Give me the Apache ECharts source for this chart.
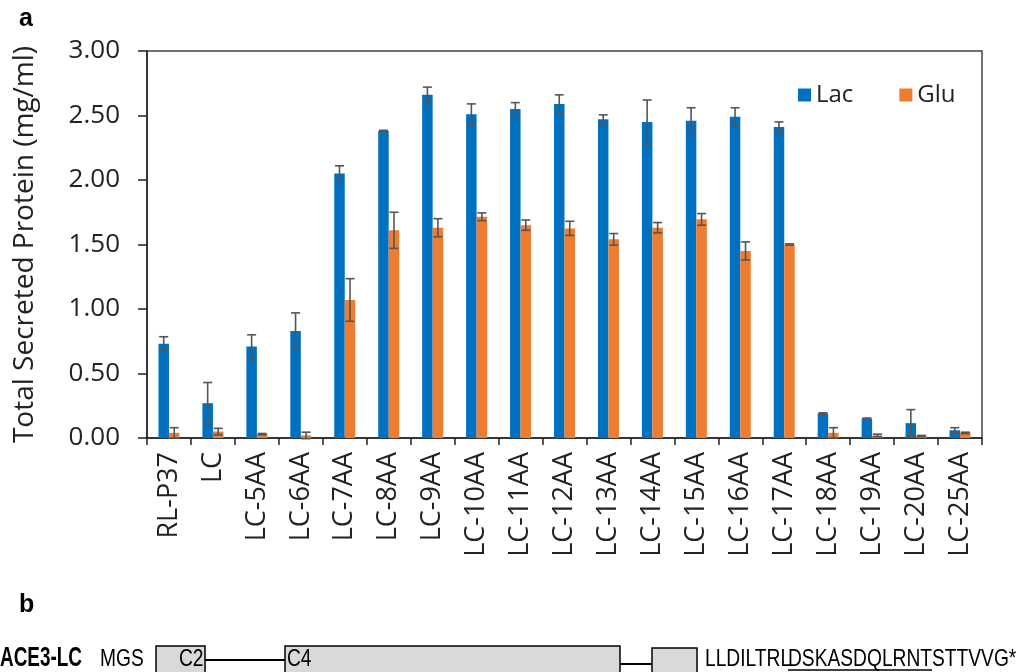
<!DOCTYPE html>
<html><head><meta charset="utf-8">
<script src="https://cdn.jsdelivr.net/npm/echarts@6/dist/echarts.min.js"></script>
<style>html,body{margin:0;padding:0;background:#fff}#c{width:1017px;height:672px}</style>
</head><body><div id="c"></div>
<script>
const categories = ['RL-P37','LC','LC-5AA','LC-6AA','LC-7AA','LC-8AA','LC-9AA','LC-10AA','LC-11AA','LC-12AA','LC-13AA','LC-14AA','LC-15AA','LC-16AA','LC-17AA','LC-18AA','LC-19AA','LC-20AA','LC-25AA'];
const lacMean = [0.73,0.27,0.71,0.83,2.05,2.38,2.66,2.51,2.55,2.59,2.47,2.45,2.46,2.49,2.41,0.19,0.15,0.115,0.06];
const lacErr  = [0.055,0.16,0.09,0.14,0.06,0.005,0.06,0.08,0.05,0.07,0.035,0.17,0.10,0.07,0.04,0.005,0.005,0.105,0.02];
const gluMean = [0.04,0.05,0.03,0.02,1.07,1.61,1.63,1.715,1.65,1.625,1.54,1.63,1.695,1.45,1.50,0.04,0.02,0.015,0.04];
const gluErr  = [0.04,0.025,0.005,0.025,0.165,0.14,0.07,0.03,0.04,0.055,0.045,0.04,0.045,0.07,0.005,0.04,0.01,0.005,0.005];
const yTicks = [0,0.5,1,1.5,2,2.5,3];

const BW = 10.5;
const chart = echarts.init(document.getElementById('c'));
function errSeries(mean, err, off) {
  return {
    type: 'custom', silent: true, z: 5,
    data: mean.map((m, i) => [i, m, err[i]]),
    renderItem: function (params, api) {
      const i = api.value(0), m = api.value(1), e = api.value(2);
      const p0 = api.coord([i, m - e]);
      const p1 = api.coord([i, m + e]);
      const x = p0[0] + off;
      const c = 4.5;
      const st = {stroke: '#555', lineWidth: 1.6};
      return {type: 'group', children: [
        {type: 'line', shape: {x1: x, y1: p0[1], x2: x, y2: p1[1]}, style: st},
        {type: 'line', shape: {x1: x - c, y1: p1[1], x2: x + c, y2: p1[1]}, style: st},
        {type: 'line', shape: {x1: x - c, y1: p0[1], x2: x + c, y2: p0[1]}, style: st}
      ]};
    }
  };
}
const seqFont = '24px "Liberation Sans", Arial, sans-serif';
const SX = 0.8;
const midY = 659;
function seqText(t, x, font, sx) {
  return {type: 'text', x: x, y: midY, scaleX: sx || SX, z: 10,
    style: {text: t, font: font || seqFont, fill: '#000', verticalAlign: 'middle', align: 'left'}};
}
const boxStyle = {fill: '#d9d9d9', stroke: '#000', lineWidth: 1.5};

const option = {
  animation: false,
  backgroundColor: '#fff',
  textStyle: {fontFamily: '"Open Sans", "DejaVu Sans", sans-serif'},
  grid: {left: 147, right: 35, top: 51, bottom: 234, show: true, borderColor: '#444', borderWidth: 1.5, backgroundColor: 'transparent'},
  legend: {
    data: ['Lac', 'Glu'], left: 793, top: 78, itemWidth: 13, itemHeight: 13, itemGap: 46,
    icon: 'rect', textStyle: {fontSize: 24, color: '#222', fontFamily: '"Open Sans", sans-serif'}
  },
  xAxis: {
    type: 'category', data: categories,
    axisLine: {lineStyle: {color: '#222', width: 1.5}},
    axisTick: {show: true, length: 7, lineStyle: {color: '#222', width: 1.5}},
    axisLabel: {rotate: 90, fontSize: 27, color: '#222', margin: 14, interval: 0}
  },
  yAxis: {
    type: 'value', min: 0, max: 3, interval: 0.5,
    name: 'Total Secreted Protein (mg/ml)', nameLocation: 'middle', nameGap: 108,
    nameTextStyle: {fontSize: 28, color: '#222'},
    axisLine: {show: true, lineStyle: {color: '#222', width: 1.5}},
    axisTick: {show: true, length: 9, lineStyle: {color: '#222', width: 1.5}},
    splitLine: {show: false},
    axisLabel: {fontSize: 26, color: '#222', margin: 27, formatter: v => yTicks.indexOf(v) >= 0 ? v.toFixed(2) : ''}
  },
  series: [
    {name: 'Lac', type: 'bar', data: lacMean, barWidth: BW, barGap: '0%', itemStyle: {color: '#0070C0'}},
    {name: 'Glu', type: 'bar', data: gluMean, barWidth: BW, barGap: '0%', itemStyle: {color: '#ED7D31'}},
    errSeries(lacMean, lacErr, -BW / 2),
    errSeries(gluMean, gluErr, BW / 2)
  ],
  graphic: [
    {type: 'text', left: 19, top: 7, style: {text: 'a', font: 'bold 25px "Liberation Sans", Arial, sans-serif', fill: '#000'}},
    {type: 'text', left: 19, top: 593, style: {text: 'b', font: 'bold 25px "Liberation Sans", Arial, sans-serif', fill: '#000'}},
    {type: 'rect', shape: {x: 156, y: 646, width: 49, height: 35}, style: boxStyle},
    {type: 'line', shape: {x1: 205, y1: 660, x2: 285, y2: 660}, style: {stroke: '#000', lineWidth: 2}},
    {type: 'rect', shape: {x: 285, y: 646, width: 335, height: 35}, style: boxStyle},
    {type: 'line', shape: {x1: 620, y1: 664, x2: 652, y2: 664}, style: {stroke: '#000', lineWidth: 2}},
    {type: 'rect', shape: {x: 652, y: 648, width: 45, height: 35}, style: boxStyle},
    seqText('ACE3-LC', 0, 'bold 27px "Liberation Sans", Arial, sans-serif', 0.7),
    seqText('MGS', 100),
    seqText('C2', 179),
    seqText('C4', 287),
    seqText('LLDILTRL', 705),
    seqText('DSKASDQLRNT', 788),
    seqText('STTVVG*', 932),
    {type: 'line', shape: {x1: 788, y1: 670, x2: 932, y2: 670}, style: {stroke: '#000', lineWidth: 1.3}}
  ]
};
chart.setOption(option);
</script></body></html>
